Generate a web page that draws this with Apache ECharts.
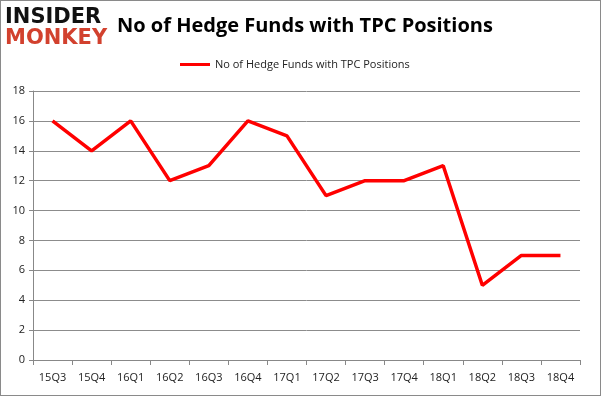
<!DOCTYPE html>
<html><head><meta charset="utf-8">
<script src="https://cdn.jsdelivr.net/npm/echarts@6/dist/echarts.min.js"></script>
<style>html,body{margin:0;padding:0;background:#fff;}#c{width:601px;height:396px;box-sizing:border-box;border:1px solid #8a8a8a;}</style>
</head><body><div id="c"></div>
<script>
var categories = ['15Q3','15Q4','16Q1','16Q2','16Q3','16Q4','17Q1','17Q2','17Q3','17Q4','18Q1','18Q2','18Q3','18Q4'];
var values = [16,14,16,12,13,16,15,11,12,12,13,5,7,7];
var seriesName = 'No of Hedge Funds with TPC Positions';
var chart = echarts.init(document.getElementById('c'));
chart.setOption({
  animation:false,
  graphic:[
    {type:'text',left:4,top:6,style:{text:'INSIDER',font:'900 21px "DejaVu Sans"',fill:'#111'}},
    {type:'text',left:4,top:27,style:{text:'MONKEY',font:'900 21px "DejaVu Sans"',fill:'#d2412e'}}
  ],
  title:{text:'No of Hedge Funds with TPC Positions',left:111,top:10,textStyle:{fontFamily:'Open Sans',fontWeight:'bold',fontSize:20,color:'#000'}},
  legend:{top:53,left:174,itemWidth:30,itemHeight:3,icon:'rect',textStyle:{fontFamily:'Open Sans',fontSize:11,color:'#222'},data:[seriesName]},
  grid:{left:32,right:20,top:90,bottom:35},
  xAxis:{type:'category',data:categories,boundaryGap:true,
    axisLine:{lineStyle:{color:'#888'}},axisTick:{show:true,alignWithLabel:false,lineStyle:{color:'#888'}},
    axisLabel:{fontFamily:'Open Sans',fontSize:11,color:'#222',margin:12}},
  yAxis:{type:'value',min:0,max:18,interval:2,
    axisLine:{show:true,lineStyle:{color:'#888'}},axisTick:{show:true,length:4,lineStyle:{color:'#888'}},
    splitLine:{lineStyle:{color:'#8c8c8c'}},
    axisLabel:{fontFamily:'Open Sans',fontSize:11,color:'#222',margin:8}},
  series:[{name:seriesName,type:'line',data:values,symbol:'none',lineStyle:{color:'#ff0000',width:3.5},itemStyle:{color:'#ff0000'}}]
});
</script></body></html>
